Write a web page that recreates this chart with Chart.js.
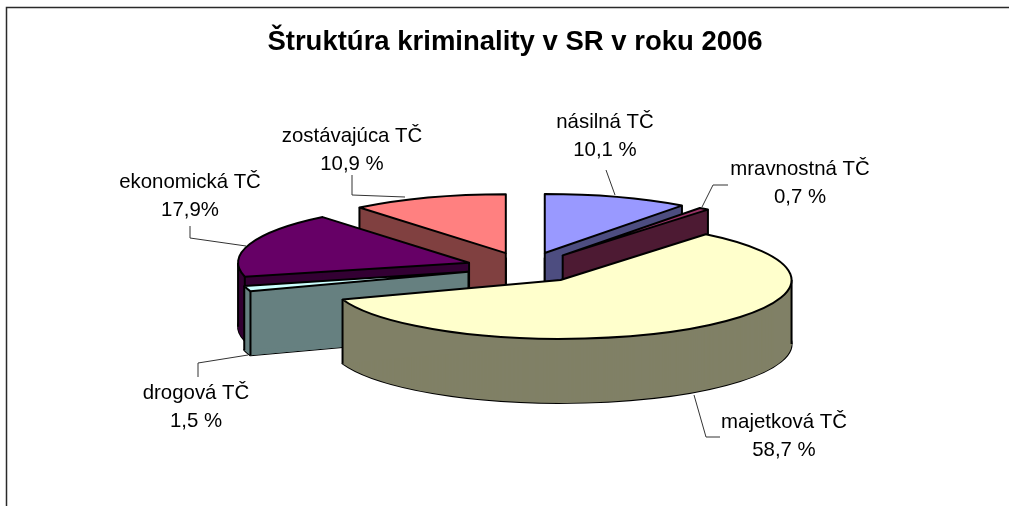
<!DOCTYPE html>
<html><head><meta charset="utf-8">
<style>html,body{margin:0;padding:0;background:#fff}canvas{display:block}</style>
<script src="https://cdn.jsdelivr.net/npm/chart.js@4/dist/chart.umd.min.js"></script>
</head><body><canvas id="c" width="1009" height="506"></canvas>
<script>
const chartTitle = 'Štruktúra kriminality v SR v roku 2006';
const categories = ['násilná TČ','mravnostná TČ','majetková TČ','drogová TČ','ekonomická TČ','zostávajúca TČ'];
const values = [10.1,0.7,58.7,1.5,17.9,10.9];
const valueLabels = ['10,1 %','0,7 %','58,7 %','1,5 %','17,9%','10,9 %'];
const topColors = ['#9999FF','#993366','#FFFFCC','#CCFFFF','#660066','#FF8080'];
const sideColors = ['#4D4D80','#4D1A33','#808066','#668080','#330033','#804040'];

// 3D view settings
const tilt = 0.255, depth = 64, explode = 60, pieRadius = 231;
const pieCentre = {x:526, y:267.5};
const labelPos = [[605,122],[800,169],[784,422],[196,393],[190,182],[352,136]];
const leaders = [
 [[606,170],[615,195]],
 [[728,185],[713,185],[702,207]],
 [[694,395],[706,437],[720,437]],
 [[198,377],[198,363],[248,355]],
 [[190,226],[190,238],[246,246]],
 [[352,175],[352,195],[405,197]]
];

const pie3d = {
  id:'pie3d',
  beforeDatasetDraw(chart,args){
    const ctx = chart.ctx;
    const arcs = chart.getDatasetMeta(0).data.map((el,i)=>({el,i}));
    const info = a=>{
      const mid=(a.el.startAngle+a.el.endAngle)/2;
      return {mid,
        tx:pieCentre.x-a.el.x+Math.cos(mid)*explode,
        ty:pieCentre.y-tilt*a.el.y+Math.sin(mid)*explode*tilt};
    };
    arcs.sort((a,b)=>Math.sin((a.el.startAngle+a.el.endAngle)/2)-Math.sin((b.el.startAngle+b.el.endAngle)/2));
    const outline=(el,f,d)=>{
      const cx=el.x+f.tx, cy=tilt*el.y+f.ty+d, r=el.outerRadius;
      ctx.beginPath();
      ctx.moveTo(cx,cy);
      ctx.ellipse(cx,cy,r,r*tilt,0,el.startAngle,el.endAngle);
      ctx.closePath();
    };
    const face=(el,f,d,color)=>{
      const ghost=Object.create(el);
      ghost.options=Object.assign({},el.options,{backgroundColor:color,borderWidth:0,offset:0});
      ctx.save();
      ctx.setTransform(1,0,0,tilt,f.tx,f.ty+d);
      ghost.draw(ctx);
      ctx.restore();
    };
    ctx.save();
    ctx.lineWidth=2; ctx.strokeStyle='#000'; ctx.lineJoin='round';
    for(const a of arcs){
      const f=info(a), el=a.el;
      outline(el,f,depth); ctx.stroke();
      for(let d=depth;d>0;d--) face(el,f,d,sideColors[a.i]);
      const cx=el.x+f.tx, cy=tilt*el.y+f.ty, r=el.outerRadius;
      const at=t=>[cx+r*Math.cos(t),cy+r*tilt*Math.sin(t)];
      // flat radial side faces
      ctx.fillStyle=sideColors[a.i];
      for(const t of [el.startAngle,el.endAngle]){
        const p=at(t);
        ctx.beginPath();
        ctx.moveTo(cx,cy);ctx.lineTo(p[0],p[1]);ctx.lineTo(p[0],p[1]+depth);ctx.lineTo(cx,cy+depth);ctx.closePath();
        ctx.fill();
      }
      // vertical edges that are not hidden by the slice's own top face
      const angs=[el.startAngle,el.endAngle];
      for(const k of [-2,-1,0,1,2]){const t=k*Math.PI; if(t>el.startAngle&&t<el.endAngle) angs.push(t);}
      const pts=[[cx,cy]].concat(angs.map(at));
      outline(el,f,0);
      const visible=pts.filter(p=>!ctx.isPointInPath(p[0],p[1]+3));
      ctx.beginPath();
      for(const p of visible){ctx.moveTo(p[0],p[1]);ctx.lineTo(p[0],p[1]+depth);}
      ctx.stroke();
      face(el,f,0,topColors[a.i]);
      outline(el,f,0); ctx.stroke();
    }
    ctx.restore();
    return false;
  },
  afterDraw(chart){
    const ctx=chart.ctx;
    ctx.save();
    ctx.strokeStyle='#2a2a2a'; ctx.lineWidth=1.5;
    ctx.beginPath(); ctx.moveTo(6.5,506); ctx.lineTo(6.5,7.5); ctx.lineTo(1009,7.5); ctx.stroke();
    ctx.strokeStyle='#333'; ctx.lineWidth=1;
    for(const l of leaders){
      ctx.beginPath();
      l.forEach((p,i)=>i?ctx.lineTo(p[0],p[1]):ctx.moveTo(p[0],p[1]));
      ctx.stroke();
    }
    ctx.fillStyle='#000'; ctx.font='20.4px "Liberation Sans"'; ctx.textAlign='center'; ctx.textBaseline='middle';
    categories.forEach((c,i)=>{
      const [x,y]=labelPos[i];
      ctx.fillText(c,x,y);
      ctx.fillText(valueLabels[i],x,y+28);
    });
    ctx.restore();
  }
};

new Chart(document.getElementById('c'),{
  type:'pie',
  data:{labels:categories,datasets:[{data:values,backgroundColor:topColors,borderWidth:0}]},
  options:{
    responsive:false,animation:false,
    radius:pieRadius,
    layout:{padding:{left:21,right:0,top:0,bottom:0}},
    plugins:{
      legend:{display:false},tooltip:{enabled:false},
      title:{display:true,text:chartTitle,color:'#000',font:{family:'"Liberation Sans"',size:27.5,weight:'bold'},padding:{top:26,bottom:10}}
    }
  },
  plugins:[pie3d]
});
</script></body></html>
